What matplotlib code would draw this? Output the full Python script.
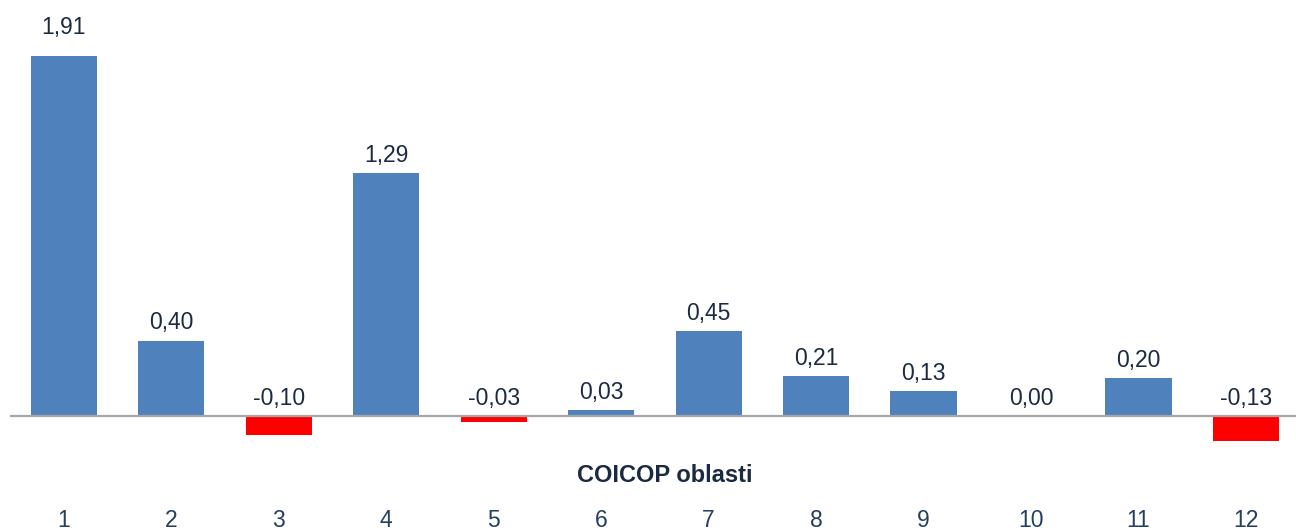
import matplotlib
matplotlib.use("Agg")
import matplotlib.pyplot as plt

categories = ["1", "2", "3", "4", "5", "6", "7", "8", "9", "10", "11", "12"]
values = [1.91, 0.40, -0.10, 1.29, -0.03, 0.03, 0.45, 0.21, 0.13, 0.00, 0.20, -0.13]
axis_title = "COICOP oblasti"

plt.rcParams['font.family'] = ['Liberation Sans', 'DejaVu Sans']

W, H = 1296, 531
fig = plt.figure(figsize=(W / 100, H / 100), dpi=100)
ax_left_px, ax_width_px = 10, 1289.7
ax_top_px, ax_bot_px = 1.3, 453.7
ax = fig.add_axes([ax_left_px / W, 1 - ax_bot_px / H, ax_width_px / W, (ax_bot_px - ax_top_px) / H])

x = list(range(1, len(categories) + 1))
colors = ['#4F81BD' if v >= 0 else '#FF0000' for v in values]
ax.bar(x, values, width=0.615, color=colors, edgecolor='none', zorder=2)
ax.axhline(0, color='#A6A6A6', lw=1.6, zorder=3)

ax.set_xlim(0.5, 12.5)
ax.set_ylim(-0.2, 2.2)
for s in ax.spines.values():
    s.set_visible(False)
ax.set_yticks([])
ax.set_xticks(x)
ax.set_xticklabels(categories, fontsize=16.5, color='#243F60')
ax.tick_params(axis='x', length=0, pad=39.5)

label_color = '#1B2A41'
for i, (xi, v) in enumerate(zip(x, values)):
    y = max(v, 0)
    off = 4.5 if i != 0 else 12.5
    ax.annotate(f"{v:.2f}".replace('.', ','), (xi, y), xytext=(0, off),
                textcoords='offset points', ha='center', va='bottom',
                fontsize=16.5, color=label_color, zorder=4)

fig.text(665 / W, 1 - 475 / H, axis_title, ha='center', va='center',
         fontsize=17, fontweight='bold', color='#1B2A41')

fig.savefig('out.png', dpi=100)
